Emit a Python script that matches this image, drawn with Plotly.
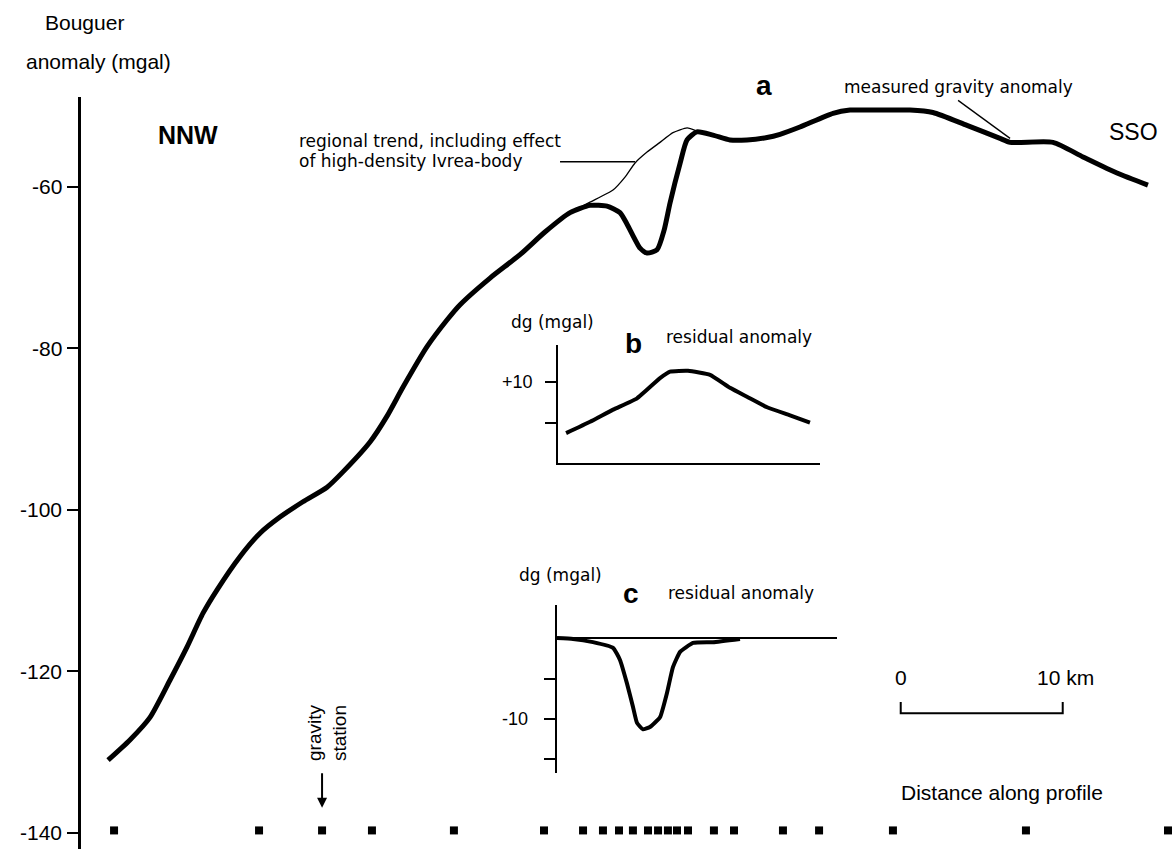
import plotly.graph_objects as go

W, H = 1175, 849

# ---- data (distance along profile in km, anomaly in mgal) ----
measured_km = [1.67, 3.02, 4.26, 5.49, 6.54, 7.53, 8.40, 9.81, 11.05, 12.28, 13.70, 15.19,
               16.17, 17.84, 18.89, 19.88, 21.36, 22.59, 23.40, 25.25, 27.10, 28.64, 30.19,
               31.42, 32.47, 33.27, 33.70, 34.51, 34.94, 35.56, 35.99, 36.36, 36.98, 37.41, 38.02,
               39.01, 40.06, 41.11, 42.35, 43.15, 44.38, 46.42, 47.47, 49.32, 51.17, 52.59,
               54.69, 56.73, 57.35, 60.00, 61.85, 63.95, 65.86]
measured_mgal = [-131.0, -128.5, -125.7, -121.1, -117.0, -112.8, -109.9, -105.8, -102.9, -100.9,
                 -99.0, -97.2, -95.3, -91.6, -88.4, -84.8, -79.8, -76.5, -74.6, -71.3, -68.4,
                 -65.6, -63.2, -62.3, -62.4, -63.2, -64.6, -67.6, -68.2, -67.8, -65.4, -62.0, -57.1,
                 -54.2, -53.2, -53.6, -54.2, -54.2, -53.9, -53.5, -52.6, -50.9, -50.5, -50.5,
                 -50.5, -50.8, -52.4, -54.0, -54.5, -54.5, -56.3, -58.3, -59.8]

regional_km = [30.19, 31.42, 32.84, 33.58, 34.20, 34.94, 35.74, 36.54, 37.41, 38.02]
regional_mgal = [-63.2, -61.9, -60.4, -58.8, -57.05, -55.7, -54.5, -53.3, -52.7, -53.1]

resid_b_km = [29.94, 31.42, 32.84, 34.32, 35.74, 36.36, 37.47, 38.83, 40.06, 41.11, 42.35, 43.77, 45.0]
resid_b_mgal = [3.7, 5.1, 6.6, 8.0, 10.5, 11.3, 11.4, 10.9, 9.3, 8.2, 6.9, 5.9, 5.0]

resid_c_km = [29.38, 30.37, 31.60, 32.84, 33.27, 33.70, 34.07, 34.32, 34.69, 35.12, 35.74,
              36.17, 36.54, 36.98, 37.78, 39.01, 40.68]
resid_c_mgal = [0.0, -0.1, -0.5, -1.2, -2.7, -5.6, -8.5, -10.5, -11.3, -11.0, -9.8,
                -6.8, -3.6, -1.7, -0.6, -0.5, -0.1]

stations_km = [2.04, 10.99, 14.88, 17.96, 23.02, 28.58, 30.99, 32.22, 33.21, 34.07, 35.0,
               35.62, 36.23, 36.79, 37.47, 39.07, 40.31, 43.33, 45.56, 50.12, 58.33, 67.1]
station_level = -139.7

main_ticks = [-60, -80, -100, -120, -140]
main_ticklabels = ["-60", "-80", "-100", "-120", "-140"]
b_ticks = [5, 10]
b_ticklabels = ["", "+10"]
c_ticks = [-5, -10, -15]
c_ticklabels = ["", "-10", ""]

scale_start_km = 50.6
scale_len_km = 10

# ---- helpers ----
def px(x):
    return x / W

def py(y):
    return 1 - y / H

FONT = "Liberation Sans"
TFONT = "DejaVu Sans"

fig = go.Figure()

fig.add_trace(go.Scatter(x=measured_km, y=measured_mgal, mode="lines",
                         line=dict(color="black", width=5, shape="spline", smoothing=0.6),
                         xaxis="x", yaxis="y", hoverinfo="skip"))
fig.add_trace(go.Scatter(x=regional_km, y=regional_mgal, mode="lines",
                         line=dict(color="black", width=1.3, shape="spline", smoothing=0.5),
                         xaxis="x", yaxis="y", hoverinfo="skip"))
fig.add_trace(go.Scatter(x=stations_km, y=[station_level] * len(stations_km), mode="markers",
                         marker=dict(symbol="square", size=8, color="black"),
                         xaxis="x", yaxis="y", hoverinfo="skip"))
fig.add_trace(go.Scatter(x=resid_b_km, y=resid_b_mgal, mode="lines",
                         line=dict(color="black", width=4, shape="spline", smoothing=0.4),
                         xaxis="x2", yaxis="y2", hoverinfo="skip"))
fig.add_trace(go.Scatter(x=resid_c_km, y=resid_c_mgal, mode="lines",
                         line=dict(color="black", width=4, shape="spline", smoothing=0.4),
                         xaxis="x3", yaxis="y3", hoverinfo="skip"))

main_x_range = [0, (W - 81) / 16.2]
main_y_range = [-142.0, -48.88]

tick_common = dict(ticks="outside", ticklen=11, tickwidth=2, tickcolor="black",
                   showticklabels=False, showgrid=False, linecolor="black")

fig.update_layout(
    width=W, height=H,
    margin=dict(l=0, r=0, t=0, b=0),
    paper_bgcolor="white", plot_bgcolor="white",
    showlegend=False,
    font=dict(family=FONT, color="black", size=16),
    xaxis=dict(domain=[px(81), 1], range=main_x_range, visible=False, fixedrange=True),
    yaxis=dict(domain=[0, py(97)], range=main_y_range, showline=True, linewidth=3,
               tickvals=main_ticks, zeroline=False, anchor="x", **tick_common),
    xaxis2=dict(domain=[px(558), px(820)], range=[29.44, 45.62], showline=True, linewidth=2,
                linecolor="black", showticklabels=False, ticks="", showgrid=False,
                zeroline=False, anchor="y2"),
    yaxis2=dict(domain=[py(463), py(345)], range=[0, 14.6], showline=True, linewidth=2,
                tickvals=b_ticks, zeroline=False, anchor="x2", **tick_common),
    xaxis3=dict(domain=[px(557), px(837)], range=[29.38, 46.67], showline=False,
                showticklabels=False, ticks="", showgrid=False, zeroline=False, anchor="y3"),
    yaxis3=dict(domain=[py(773), py(605)], range=[-16.7, 4.1], showline=True, linewidth=2,
                tickvals=c_ticks, zeroline=True, zerolinecolor="black", zerolinewidth=1.5,
                anchor="x3", **tick_common),
)

# tick labels (hyphen-minus as in the original)
for v, s in zip(main_ticks, main_ticklabels):
    fig.add_annotation(x=px(64), y=v, xref="paper", yref="y", text=s, showarrow=False,
                       xanchor="right", yanchor="middle", font=dict(size=21, family=FONT))
for v, s in zip(b_ticks, b_ticklabels):
    if s:
        fig.add_annotation(x=px(535), y=v, xref="paper", yref="y2", text=s, showarrow=False,
                           xanchor="right", yanchor="middle", font=dict(size=18, family=FONT))
for v, s in zip(c_ticks, c_ticklabels):
    if s:
        fig.add_annotation(x=px(530), y=v, xref="paper", yref="y3", text=s, showarrow=False,
                           xanchor="right", yanchor="middle", font=dict(size=18, family=FONT))


def txt(x, y, s, size=16, family=FONT, bold=False, xanchor="center", angle=0):
    if bold:
        s = "<b>" + s + "</b>"
    fig.add_annotation(x=px(x), y=py(y), xref="paper", yref="paper", text=s,
                       showarrow=False, xanchor=xanchor, yanchor="middle",
                       textangle=angle, font=dict(size=size, family=family, color="black"))

txt(85, 23, "Bouguer", 21)
txt(99, 62, "anomaly (mgal)", 21)
txt(188, 135, "NNW", 25, bold=True)
txt(1133, 132, "SSO", 23)
txt(764, 85, "a", 28, bold=True)
txt(297, 141, "regional trend, including effect", 17, TFONT, xanchor="left")
txt(297, 161, "of high-density Ivrea-body", 17, TFONT, xanchor="left")
txt(958, 87, "measured gravity anomaly", 17, TFONT)
txt(552, 322, "dg (mgal)", 17, TFONT)
txt(633, 343, "b", 28, bold=True)
txt(739, 337, "residual anomaly", 17, TFONT)
txt(560, 575, "dg (mgal)", 17, TFONT)
txt(631, 593, "c", 28, bold=True)
txt(741, 593, "residual anomaly", 17, TFONT)
txt(901, 677, "0", 21)
txt(1065, 677, "10 km", 21)
txt(1002, 792, "Distance along profile", 21)
txt(327, 733, "gravity<br>station", 19, angle=-90)

# arrow to a gravity station
fig.add_annotation(x=stations_km[2], y=-136.9, xref="x", yref="y", ax=0, ay=-36,
                   axref="pixel", ayref="pixel", text="", showarrow=True,
                   arrowhead=2, arrowsize=1, arrowwidth=2, arrowcolor="black")

# leader lines
fig.add_shape(type="line", xref="x", yref="y", x0=29.57, y0=-56.9, x1=34.2, y1=-56.9,
              line=dict(color="black", width=1.3))
fig.add_shape(type="line", xref="x", yref="y", x0=54.14, y0=-49.3, x1=57.35, y1=-54.0,
              line=dict(color="black", width=1.3))

# scale bar
fig.add_shape(type="path", xref="x", yref="y",
              path=f"M {scale_start_km},-123.8 L {scale_start_km},-125.2 "
                   f"L {scale_start_km + scale_len_km},-125.2 L {scale_start_km + scale_len_km},-123.8",
              line=dict(color="black", width=2))

fig.write_html("out.html", config={"displayModeBar": False},
               post_script="document.body.style.margin='0';document.body.style.overflow='hidden';")
